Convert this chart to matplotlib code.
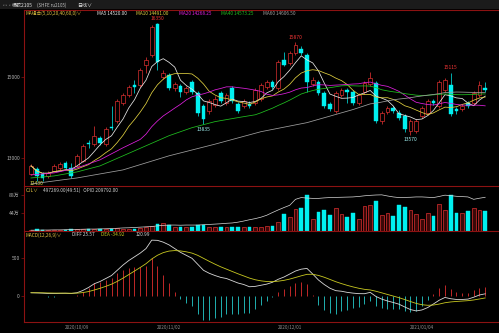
import matplotlib
matplotlib.use('Agg')
import matplotlib.pyplot as plt
import matplotlib.patches as patches
import numpy as np
import pandas as pd

plt.rcParams['font.family'] = ['Noto Sans CJK SC', 'DejaVu Sans']

# daily bars, 2020/09/21 .. 2021/01/19
opens = [12600, 12725, 12600, 12550, 12675, 12750, 12875, 12750, 12800, 12925,
         13360, 13350, 13500, 13350, 13775, 13925, 14375, 14550, 14800, 14800,
         15300, 15550, 16325, 15000, 15050, 14725, 14775, 14625, 14875, 14600,
         14300, 14175, 14325, 14600, 14375, 14725, 14350, 14300, 14350, 14375,
         14475, 14750, 14875, 14725, 15425, 15350, 15600, 15700, 15550, 14825,
         14875, 14600, 14350, 14175, 14550, 14675, 14625, 14375, 14625, 14825,
         14850, 13925, 14150, 14250, 14125, 14050, 13675, 13675, 14050, 14125,
         14425, 14300, 14675, 14800, 14225, 14225, 14375, 14375, 14550, 14725]
highs = [12850, 12775, 12650, 12675, 12850, 12900, 12925, 12875, 13100, 13350,
         13450, 13800, 13550, 13775, 14300, 14475, 14600, 14800, 14925, 15225,
         15500, 16300, 16350, 15175, 15100, 14875, 14825, 14775, 14925, 14650,
         14350, 14475, 14525, 14650, 14600, 14775, 14400, 14475, 14425, 14725,
         14850, 14925, 14925, 15425, 15625, 15650, 15870, 15775, 15600, 15000,
         14925, 14650, 14400, 14650, 14725, 14725, 14675, 14600, 14900, 15125,
         14900, 14175, 14300, 14300, 14200, 14100, 13975, 13975, 14300, 14475,
         14475, 14925, 14975, 15115, 14275, 14350, 14425, 14650, 14900, 14875]
lows = [12575, 12425, 12430, 12500, 12650, 12700, 12725, 12500, 12775, 12900,
        13250, 13300, 13325, 13300, 13700, 13875, 14325, 14500, 14600, 14750,
        15100, 15500, 15175, 14950, 14675, 14650, 14500, 14575, 14575, 14050,
        13835, 14100, 14275, 14375, 14325, 14375, 14125, 14250, 14250, 14325,
        14425, 14700, 14700, 14675, 15275, 15300, 15550, 15550, 14625, 14775,
        14550, 14250, 14175, 14125, 14500, 14375, 14325, 14325, 14575, 14775,
        13875, 13850, 14100, 14125, 13950, 13650, 13570, 13625, 14000, 14075,
        14325, 14250, 14625, 14050, 14100, 14175, 14250, 14325, 14500, 14625]
closes = [12800, 12550, 12500, 12625, 12800, 12850, 12750, 12550, 13050, 13300,
          13340, 13550, 13375, 13725, 13750, 14425, 14550, 14750, 14750, 15175,
          15425, 16250, 15375, 15100, 14725, 14825, 14625, 14725, 14625, 14125,
          13975, 14425, 14475, 14425, 14550, 14425, 14175, 14425, 14300, 14675,
          14800, 14875, 14750, 15375, 15300, 15600, 15800, 15600, 14875, 14925,
          14600, 14300, 14225, 14600, 14675, 14625, 14375, 14550, 14850, 14975,
          13925, 14125, 14250, 14175, 14000, 13725, 13925, 13925, 14250, 14425,
          14375, 14875, 14925, 14100, 14175, 14300, 14300, 14600, 14800, 14675]
# volume in 万手
volume = [3, 4, 3, 2, 3, 3, 3, 4, 4, 5,
          4, 5, 4, 5, 6, 7, 6, 6, 6, 8,
          9, 12, 16, 19, 15, 10, 11, 9, 9, 15,
          15, 11, 10, 10, 9, 10, 10, 9, 10, 10,
          11, 13, 13, 22, 41, 35, 54, 56, 88, 30,
          47, 51, 38, 56, 41, 35, 43, 30, 60, 63,
          73, 39, 43, 37, 63, 58, 52, 41, 30, 43,
          37, 65, 52, 88, 43, 43, 49, 56, 52, 49.7]
# open interest in 万手
open_int = [0.5, 0.5, 0.6, 0.6, 0.7, 0.7, 0.8, 0.9, 1.0, 1.1,
            1.2, 1.2, 1.3, 1.4, 1.5, 1.7, 1.9, 2.0, 2.2, 2.4,
            2.6, 2.8, 3.2, 3.5, 3.7, 3.7, 3.6, 3.7, 3.7, 3.7,
            3.9, 4.1, 4.3, 4.5, 4.8, 5.0, 5.5, 6.2, 7.0, 7.7,
            8.6, 9.8, 11.5, 13.1, 14.6, 16.0, 19.7, 20.8, 20.5, 20.3,
            20.3, 20.6, 20.8, 20.9, 21.0, 21.1, 21.2, 21.5, 21.9, 22.2,
            22.4, 22.5, 21.8, 21.2, 20.8, 20.9, 21.0, 21.2, 21.2, 21.0,
            20.8, 21.5, 22.3, 22.0, 21.6, 21.4, 21.2, 19.7, 20.4, 20.98]
# MACD DIFF line as drawn (history before the window is not on screen)
diff = [40, 38, 35, 30, 30, 32, 33, 30, 40, 70,
        110, 160, 190, 230, 270, 340, 410, 470, 520, 570,
        630, 743, 740, 716, 680, 630, 580, 540, 500, 420,
        340, 300, 270, 245, 230, 200, 170, 150, 120, 125,
        140, 155, 180, 220, 250, 290, 330, 355, 365, 290,
        210, 150, 100, 68, 60, 45, 35, 28, 27, 45,
        -10, -45, -70, -90, -113, -150, -185, -203, -190, -158,
        -110, -60, -23, -40, -50, -50, -45, -20, 10, 25.57]

# long averages before enough bars are on screen
ma20_head_idx = [0, 4, 8, 12, 16]
ma20_head = [12575, 12625, 12750, 12950, 13250]
ma40_head_idx = [0, 4, 8, 12, 16, 20, 24, 28, 32, 36]
ma40_head = [12500, 12550, 12650, 12800, 13050, 13300, 13550, 13750, 13900, 14000]
ma60_head_idx = [0, 8, 16, 24, 32, 40, 48, 56]
ma60_head = [12350, 12500, 12700, 13050, 13340, 13650, 13875, 14200]

date_idx = [8, 24, 45, 68]
date_labels = ['2020/10/09', '2020/11/02', '2020/12/01', '2021/01/04']

marks = [(22, 16350, 'hi'), (46, 15870, 'hi'), (73, 15115, 'hi'),
         (30, 13835, 'lo'), (66, 13570, 'lo')]

RED = '#f03434'
CYAN = '#00f0f0'
FRAME = '#8c1212'
W, H = 499, 333

def fx(px):
    return px / W

def fy(py):
    return 1 - py / H

n = len(closes)
x = np.arange(n)
s = pd.Series(closes, dtype=float)
ma5 = s.rolling(5, min_periods=1).mean()
ma10 = s.rolling(10, min_periods=1).mean()
ma20 = s.rolling(20).mean()
ma40 = s.rolling(40).mean()
ma60 = s.rolling(60).mean()
d = pd.Series(diff, dtype=float)
dea = d.ewm(span=9, adjust=False).mean()
macd = (2 * (d - dea)).values

up = np.array(closes) >= np.array(opens)

fig = plt.figure(figsize=(W / 100, H / 100), dpi=100, facecolor='black')

def make_ax(top, bottom):
    ax = fig.add_axes([fx(24), fy(bottom), 1 - fx(24), (bottom - top) / H])
    ax.set_facecolor('black')
    for sp in ['right', 'bottom']:
        ax.spines[sp].set_visible(False)
    for sp in ['left', 'top']:
        ax.spines[sp].set_color(FRAME)
        ax.spines[sp].set_linewidth(0.8)
    ax.set_xlim(-1.22, 81.4)
    ax.set_xticks([])
    ax.tick_params(axis='y', colors=FRAME, labelcolor='#b0b0b0', labelsize=3.6,
                   length=2, width=0.5, pad=1)
    return ax

ax = make_ax(10, 186)
axv = make_ax(186, 231)
axm = make_ax(231, 322)

# header strip
fig.add_artist(patches.Rectangle((0, fy(9)), 1, 1 - fy(9), transform=fig.transFigure,
                                 facecolor='#1b1b1b', edgecolor='none', zorder=0))
fig.text(fx(2), fy(5), '▫▫▫', color='#808080', fontsize=2.5, va='center')
fig.text(fx(12), fy(5), '橡胶2105', color='#e0e0e0', fontsize=3.6, va='center')
fig.text(fx(37), fy(5), '(SHFE ru2105)', color='#c0c0c0', fontsize=3.2, va='center')
fig.text(fx(77), fy(5), '日线∨', color='#e0e0e0', fontsize=3.6, va='center')

# candles
for i in range(n):
    c = RED if up[i] else CYAN
    ax.vlines(x[i], lows[i], highs[i], color=c, linewidth=0.5, zorder=2)
    lo_b = min(opens[i], closes[i])
    h = max(abs(closes[i] - opens[i]), 12)
    if up[i]:
        ax.bar(x[i], h, bottom=lo_b, width=0.66, facecolor='black', edgecolor=RED,
               linewidth=0.45, zorder=3)
    else:
        ax.bar(x[i], h, bottom=lo_b, width=0.66, facecolor=CYAN, edgecolor=CYAN,
               linewidth=0.3, zorder=3)

lw = 0.55
ax.plot(x, ma5, color='#e8e8e8', linewidth=lw, zorder=4)
ax.plot(x, ma10, color='#e0d040', linewidth=lw, zorder=4)
ax.plot(ma20_head_idx + list(range(19, n)), ma20_head + list(ma20[19:]),
        color='#e020e0', linewidth=lw, zorder=4)
ax.plot(ma40_head_idx + list(range(39, n)), ma40_head + list(ma40[39:]),
        color='#20c020', linewidth=lw, zorder=4)
ax.plot(ma60_head_idx + list(range(59, n)), ma60_head + list(ma60[59:]),
        color='#a0a0a0', linewidth=lw, zorder=4)

for i, v, kind in marks:
    if kind == 'hi':
        ax.text(i, v + 60, str(v), color=RED, fontsize=3.6, ha='center', va='bottom')
    else:
        ax.text(i, v - 60, str(v), color='#a0f0f0', fontsize=3.6, ha='center', va='top')
ax.text(1, 12300, '12430', color='#e0e040', fontsize=3.6, ha='center', va='bottom')

ax.set_ylim(12300, 16675)
ax.set_yticks([13000, 15000])
ax.set_yticklabels(['13000', '15000'])

leg_y = 13.5
fig.text(fx(26), fy(leg_y), 'MA组合(5,10,20,40,60,0)∨', color='#e0c040', fontsize=3.4, va='center')
fig.text(fx(97), fy(leg_y), 'MA5 14520.00', color='#e8e8e8', fontsize=3.4, va='center')
fig.text(fx(136), fy(leg_y), 'MA10 14491.00', color='#e0d040', fontsize=3.4, va='center')
fig.text(fx(179), fy(leg_y), 'MA20 14268.25', color='#e020e0', fontsize=3.4, va='center')
fig.text(fx(221), fy(leg_y), 'MA40 14573.25', color='#20c020', fontsize=3.4, va='center')
fig.text(fx(263), fy(leg_y), 'MA60 14606.50', color='#a0a0a0', fontsize=3.4, va='center')

# volume + open interest
for i in range(n):
    if up[i]:
        axv.bar(x[i], volume[i], width=0.66, facecolor='#3a0808', edgecolor=RED,
                linewidth=0.45)
    else:
        axv.bar(x[i], volume[i], width=0.66, facecolor=CYAN, edgecolor=CYAN,
                linewidth=0.3)
axv.set_ylim(0, 110)
axv.set_yticks([44, 88])
axv.set_yticklabels(['44万', '88万'])
axo = axv.twinx()
axo.set_xlim(-1.22, 81.4)
axo.axis('off')
axo.plot(x, open_int, color='#d8d8d8', linewidth=0.5)
axo.set_ylim(0, 28)
fig.text(fx(26), fy(190.5), 'CJL∨', color='#e0c040', fontsize=3.4, va='center')
fig.text(fx(43), fy(190.5), '497269.00(49:51)   OPID 209792.00', color='#d0d0d0',
         fontsize=3.4, va='center')

# MACD
pos = macd >= 0
axm.vlines(x[pos], 0, macd[pos], color='#c02828', linewidth=0.7)
axm.vlines(x[~pos], 0, macd[~pos], color='#20b0b0', linewidth=0.7)
axm.plot(x, d, color='#d8d8d8', linewidth=0.6)
axm.plot(x, dea, color='#c8c820', linewidth=0.6)
axm.set_ylim(-351, 865)
axm.set_yticks([0, 500])
axm.set_yticklabels(['0', '500'])
axm.spines['bottom'].set_visible(True)
axm.spines['bottom'].set_color(FRAME)
axm.spines['bottom'].set_linewidth(0.8)
axm.set_xticks(date_idx)
axm.set_xticklabels(date_labels)
axm.tick_params(axis='x', colors=FRAME, labelcolor='#909090', labelsize=3.3,
                length=0, pad=2)
fig.text(fx(26), fy(235), 'MACD(12,26,9)∨', color='#e0c040', fontsize=3.4, va='center')
fig.text(fx(72), fy(235), 'DIFF 25.57', color='#d8d8d8', fontsize=3.4, va='center')
fig.text(fx(101), fy(235), 'DEA -34.92', color='#c8c820', fontsize=3.4, va='center')
fig.text(fx(136), fy(235), '120.99', color='#d8d8d8', fontsize=3.4, va='center')

fig.savefig('out.png', dpi=100, facecolor='black')
